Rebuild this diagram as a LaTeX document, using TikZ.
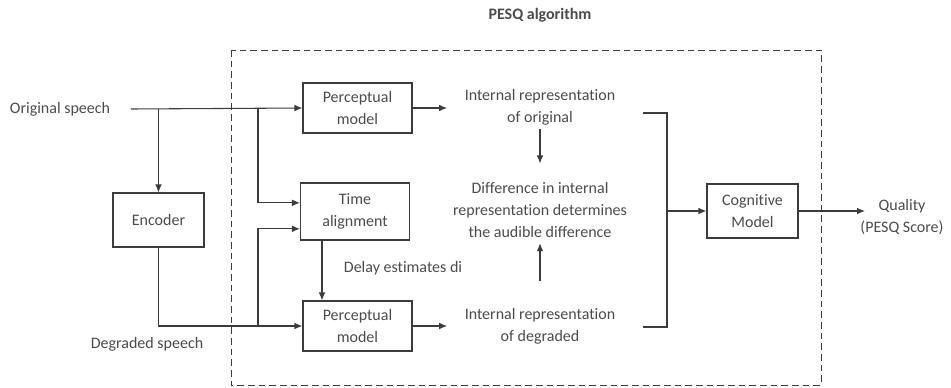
\documentclass[tikz,border=0pt]{standalone}
\usepackage{fontspec}
\setmainfont{Carlito}[Ligatures=NoCommon]
\usetikzlibrary{positioning,arrows.meta}
\definecolor{PESQLine}{RGB}{60,60,60}
\definecolor{PESQText}{RGB}{75,75,75}

\begin{document}
\begin{tikzpicture}[x=0.75pt,y=-0.75pt,
font=\fontsize{12}{16.5}\selectfont,
box/.style={rectangle,draw=PESQLine,line width=0.8pt,minimum width=81.75pt,minimum height=37.5pt,align=center,text=PESQText,inner sep=2pt},
smallbox/.style={box,minimum width=68.25pt,minimum height=40.5pt},
txt/.style={align=center,text=PESQText,inner sep=0pt},
arrow/.style={-{Latex[length=6pt,width=5pt]},line width=0.8pt,draw=PESQLine},
wire/.style={line width=0.8pt,draw=PESQLine}
]
\useasboundingbox (0,0) rectangle (951,387);
% PESQ block
\draw[PESQLine,line width=0.6pt,dash pattern=on 5pt off 3pt] (231,50) rectangle (821,385);
\node[txt,font=\fontsize{12}{14}\selectfont\bfseries] (title) at (540,15) {PESQ algorithm};

\node[txt] (orig) at (60,109) {Original speech};
\node[txt] (degr) at (147,344) {Degraded speech};
\node[box] (pm1) at (357.5,108) {Perceptual\\model};
\node[box,minimum height=42.75pt] (ta) at (355,211.5) {Time\\alignment};
\node[smallbox] (enc) at (158.5,220) {Encoder};
\node[box] (pm2) at (357.5,326) {Perceptual\\model};
\node[txt] (delay) at (403,268) {Delay estimates di};

\node[txt] (iro) at (540,107) {Internal representation\\of original};
\node[txt] (diff) at (540,210) {Difference in internal\\representation determines\\the audible difference};
\node[txt] (ird) at (540,326) {Internal representation\\of degraded};
\node[smallbox] (cog) at (752.5,211) {Cognitive\\Model};
\node[txt] (qual) at (902,217) {Quality\\(PESQ Score)};

\coordinate (s1) at (131,109);
\coordinate (b1) at (258,109);
\coordinate (b2) at (258,326);
\coordinate (brtop) at (643,113);
\coordinate (brmid) at (667,211);
\coordinate (brbot) at (643,327);
\coordinate (qend) at (865,211);

% inputs
\draw[arrow] (s1) -- (pm1.west);
\draw[arrow] (enc.north |- s1) -- (enc.north);
\draw[arrow] (b1) |- ([yshift=6.5pt]ta.west);
\draw[arrow] (enc.south) |- (pm2.west);
\draw[arrow] (b2) |- ([yshift=-13pt]ta.west);
\draw[arrow] ([xshift=-24.75pt]ta.south) -- ([xshift=-24.75pt]ta.south |- pm2.north);
% representations
\draw[arrow,shorten >=13pt] (pm1.east) -- (pm1.east -| iro.west);
\draw[arrow,shorten >=13pt] (pm2.east) -- (pm2.east -| ird.west);
\draw[arrow,shorten <=3pt,shorten >=14pt] (iro.south) -- (diff.north);
\draw[arrow,shorten <=20pt,shorten >=4pt] (ird.north) -- (diff.south);
% cognitive model
\draw[wire] (brtop) -| (brmid) |- (brbot);
\draw[arrow] (brmid) -- (cog.west);
\draw[arrow] (cog.east) -- (qend);
\end{tikzpicture}
\end{document}
